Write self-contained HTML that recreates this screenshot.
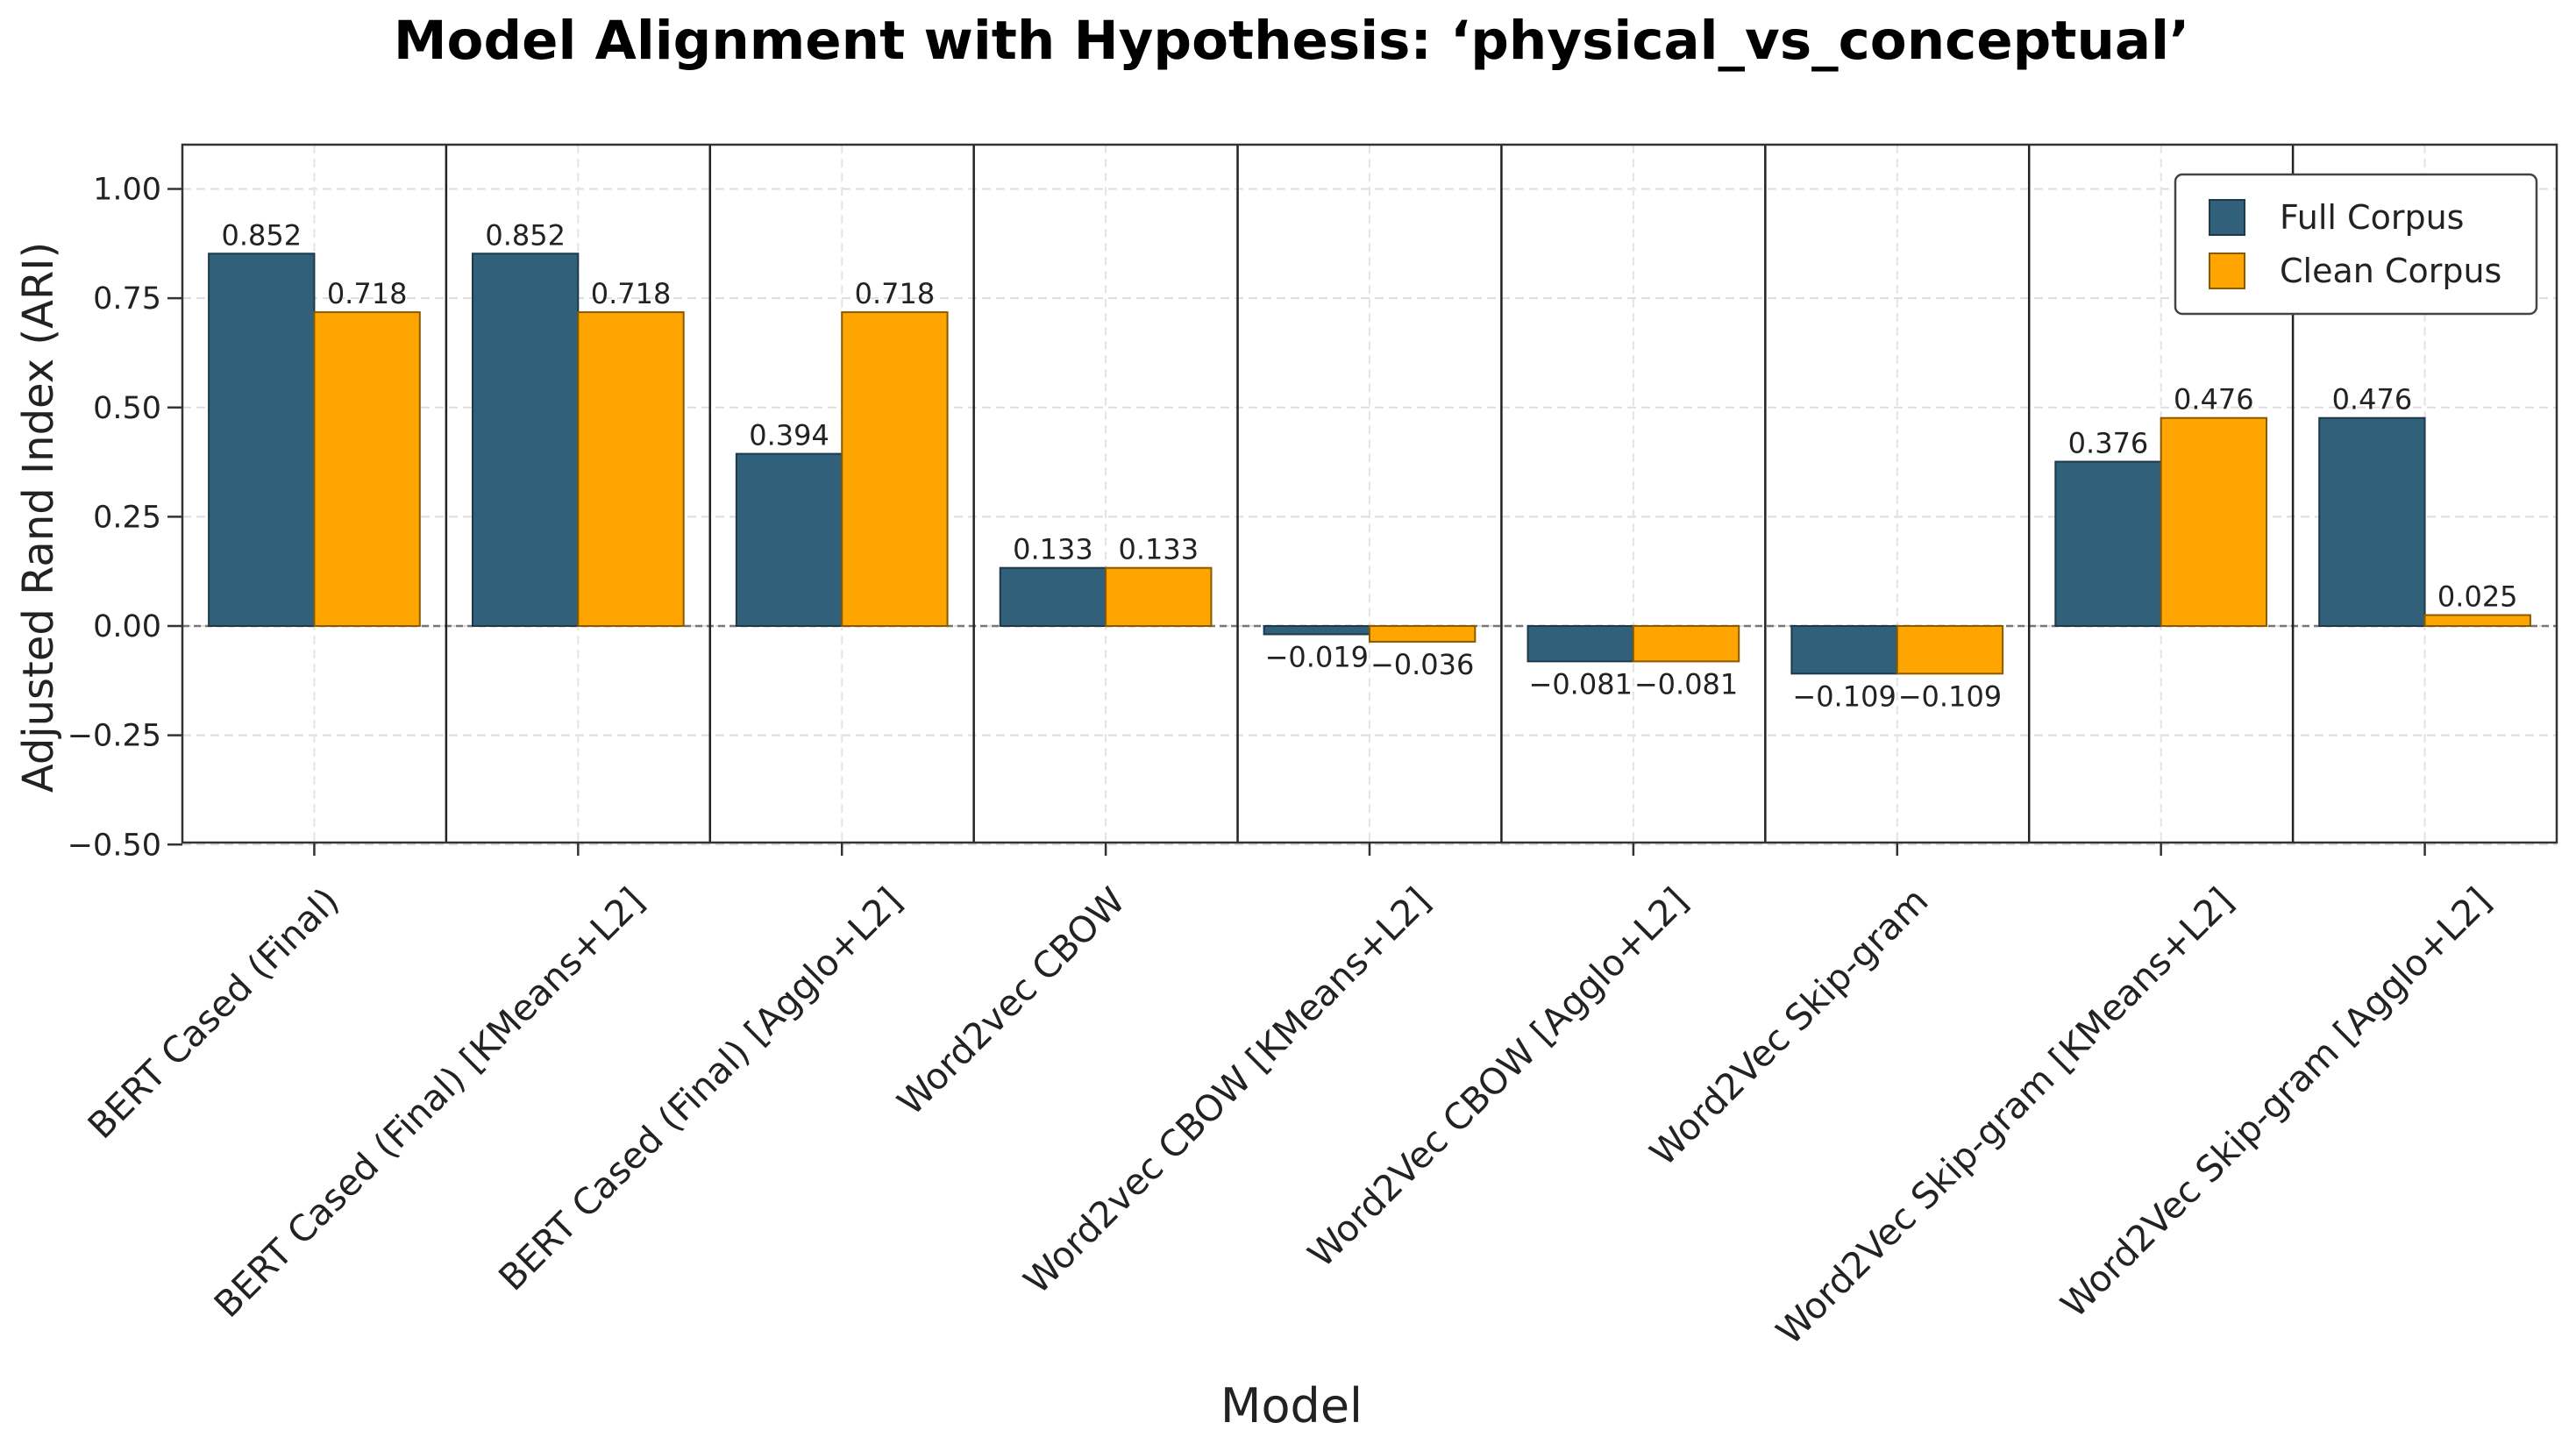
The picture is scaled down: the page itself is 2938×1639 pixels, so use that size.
<!DOCTYPE html>
<html><head><meta charset="utf-8"><style>
html,body{margin:0;padding:0;background:#fff;}
svg{display:block;font-family:"DejaVu Sans","Liberation Sans",sans-serif;}
</style></head><body>
<svg id="chart" width="2938" height="1639" viewBox="0 0 2938 1639" xmlns="http://www.w3.org/2000/svg">
<text x="1473" y="67" text-anchor="middle" font-size="61" font-weight="bold" fill="#000">Model Alignment with Hypothesis: ‘physical_vs_conceptual’</text>
<g id="grid"></g>
<g id="bars"></g>
<g id="axes"></g>
<text transform="translate(60,590) rotate(-90)" text-anchor="middle" font-size="48" fill="#222">Adjusted Rand Index (ARI)</text>
<text x="1473" y="1622" text-anchor="middle" font-size="54" fill="#222">Model</text>
<g>
<rect x="2481" y="199" width="412" height="159" rx="8" fill="#fff" stroke="#444" stroke-width="2.5"/>
<rect x="2520" y="228" width="40" height="40" fill="#30607a" stroke="#1e3a4a" stroke-width="2"/>
<text x="2600" y="261" font-size="38" fill="#222">Full Corpus</text>
<rect x="2520" y="289" width="40" height="40" fill="#ffa500" stroke="#8a5a00" stroke-width="2"/>
<text x="2600" y="322" font-size="38" fill="#222">Clean Corpus</text>
</g>
</svg>
<script>
const categories = ["BERT Cased (Final)","BERT Cased (Final) [KMeans+L2]","BERT Cased (Final) [Agglo+L2]","Word2vec CBOW","Word2vec CBOW [KMeans+L2]","Word2Vec CBOW [Agglo+L2]","Word2Vec Skip-gram","Word2Vec Skip-gram [KMeans+L2]","Word2Vec Skip-gram [Agglo+L2]"];
const fullValues = [0.852,0.852,0.394,0.133,-0.019,-0.081,-0.109,0.376,0.476];
const cleanValues = [0.718,0.718,0.718,0.133,-0.036,-0.081,-0.109,0.476,0.025];
const yTicks = [-0.50,-0.25,0.00,0.25,0.50,0.75,1.00];
const yTickLabels = ["\u22120.50","\u22120.25","0.00","0.25","0.50","0.75","1.00"];

const NS="http://www.w3.org/2000/svg";
const L=208,R=2916,T=165,B=961;
function xs(v){return L+(v+0.5)/categories.length*(R-L);}
function ys(v){const y0=714,y1=215.5;return y0-(v)*(y0-y1);}
function mk(tag,attrs,parent){const e=document.createElementNS(NS,tag);for(const k in attrs)e.setAttribute(k,attrs[k]);parent.appendChild(e);return e;}
const grid=document.getElementById('grid'),bars=document.getElementById('bars'),axes=document.getElementById('axes');

yTicks.forEach((t,i)=>{
  const y=ys(t);
  const g=mk('line',{x1:L,x2:R,y1:y,y2:y,stroke:'#ddd','stroke-width':2,'stroke-dasharray':'10,6'},grid);
  
  
  const tk=mk('line',{x1:L-17,x2:L,y1:y,y2:y,stroke:'#333','stroke-width':2.5},axes);
  
  
  const tl=mk('text',{x:L-24,y:y+12,'text-anchor':'end','font-size':35,fill:'#222'},axes);
  tl.textContent=yTickLabels[i];
  
  
});
categories.forEach((c,i)=>{
  const x=xs(i);
  const g=mk('line',{x1:x,x2:x,y1:T,y2:B,stroke:'#e4e4e4','stroke-width':2,'stroke-dasharray':'10,6'},grid);
  
  
});
const zl=mk('line',{x1:L,x2:R,y1:ys(0),y2:ys(0),stroke:'#777','stroke-width':2.5,'stroke-dasharray':'8,5'},grid);


for(let i=0;i<categories.length-1;i++){
  const x=xs(i+0.5);
  const s=mk('line',{x1:x,x2:x,y1:T,y2:B,stroke:'#222','stroke-width':2.5},grid);
  
  
}
const bw=(xs(0.4)-xs(0));
function drawBar(i,v,off,fill,stroke,name){
  const x=xs(i+off)-bw/2;
  const y=Math.min(ys(v),ys(0)),h=Math.abs(ys(v)-ys(0));
  const r=mk('rect',{x:x,y:y,width:bw,height:h,fill:fill,stroke:stroke,'stroke-width':2},bars);
  
  
  const t=mk('text',{x:x+bw/2,y:v>=0?ys(v)-10:ys(v)+37,'text-anchor':'middle','font-size':32,fill:'#222'},bars);
  t.textContent=(v<0?'\u2212':'')+Math.abs(v).toFixed(3);
  
  
}
categories.forEach((c,i)=>{
  drawBar(i,fullValues[i],-0.2,'#30607a','#1e3a4a','bar-full-corpus');
  drawBar(i,cleanValues[i],0.2,'#ffa500','#8a5a00','bar-clean-corpus');
});
const fr=mk('rect',{x:L,y:T,width:R-L,height:B-T,fill:'none',stroke:'#333','stroke-width':2.5},axes);


categories.forEach((c,i)=>{
  const x=xs(i);
  const tk=mk('line',{x1:x,x2:x,y1:B,y2:B+15,stroke:'#333','stroke-width':2.5},axes);
  
  
  const t=mk('text',{'text-anchor':'end','font-size':41,fill:'#222'},axes);
  t.textContent=c;
  
  
  const len=t.getComputedTextLength();
  const bx=x+0.163*len-32, by=1030;
  t.setAttribute('transform','translate('+bx+','+by+') rotate(-45)');
});
</script>
</body></html>
